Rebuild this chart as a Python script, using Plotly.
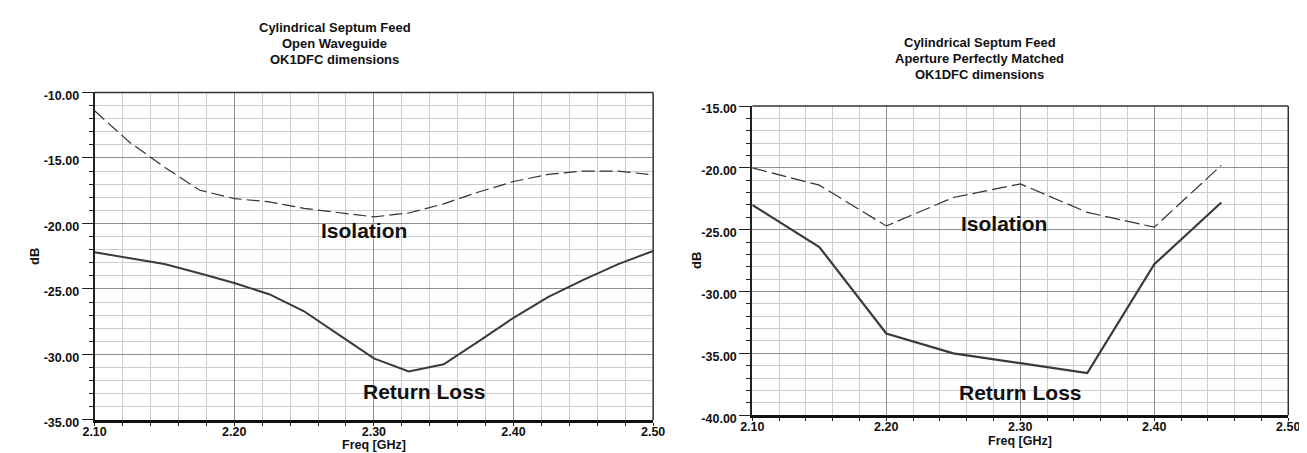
import plotly.graph_objects as go

# -----------------------------------
# Data
# -----------------------------------
# left chart: open waveguide
freq_open = [2.100, 2.125, 2.150, 2.175, 2.200, 2.225, 2.250, 2.275, 2.300,
             2.325, 2.350, 2.375, 2.400, 2.425, 2.450, 2.475, 2.500]
isolation_open = [-11.4, -13.8, -15.7, -17.45, -18.1, -18.35, -18.85, -19.15, -19.5,
                  -19.2, -18.5, -17.6, -16.8, -16.25, -16.0, -16.0, -16.3]
return_loss_open = [-22.2, -22.65, -23.1, -23.8, -24.55, -25.4, -26.7, -28.5, -30.3,
                    -31.3, -30.75, -29.0, -27.2, -25.6, -24.3, -23.1, -22.1]

# right chart: aperture perfectly matched
freq_matched = [2.10, 2.15, 2.20, 2.25, 2.30, 2.35, 2.40, 2.45]
isolation_matched = [-20.0, -21.4, -24.7, -22.4, -21.3, -23.6, -24.8, -19.8]
return_loss_matched = [-23.0, -26.4, -33.4, -35.0, -35.8, -36.6, -27.8, -22.8]

titles_open = ["Cylindrical Septum Feed", "Open Waveguide", "OK1DFC dimensions"]
titles_matched = ["Cylindrical Septum Feed", "Aperture Perfectly Matched", "OK1DFC dimensions"]

x_ticks = [2.10, 2.20, 2.30, 2.40, 2.50]
y_ticks_open = [-35, -30, -25, -20, -15, -10]
y_ticks_matched = [-40, -35, -30, -25, -20, -15]

W, H = 1307, 453
FONT = "Liberation Sans, Arial"
LINE = "#333333"

fig = go.Figure()

# Isolation (dashed) and Return Loss (solid) for both charts
fig.add_trace(go.Scatter(x=freq_open, y=isolation_open, mode="lines",
                         line=dict(color=LINE, width=1.2, dash="13px,5px"),
                         xaxis="x", yaxis="y"))
fig.add_trace(go.Scatter(x=freq_open, y=return_loss_open, mode="lines",
                         line=dict(color="#3a3a3a", width=2),
                         xaxis="x", yaxis="y"))
fig.add_trace(go.Scatter(x=freq_matched, y=isolation_matched, mode="lines",
                         line=dict(color=LINE, width=1.2, dash="15px,5px"),
                         xaxis="x2", yaxis="y2"))
fig.add_trace(go.Scatter(x=freq_matched, y=return_loss_matched, mode="lines",
                         line=dict(color="#3a3a3a", width=2.2),
                         xaxis="x2", yaxis="y2"))

tick_font = dict(family=FONT, size=12.5, color="#111", weight="bold")


def x_axis(domain, anchor):
    return dict(domain=domain, anchor=anchor, range=[x_ticks[0], x_ticks[-1]],
                tickvals=x_ticks, ticktext=[f"{v:.2f}" for v in x_ticks],
                showgrid=True, gridcolor="#8f8f8f", gridwidth=1,
                ticks="outside", ticklen=3, tickcolor="#222",
                ticklabelstandoff=-5,
                minor=dict(dtick=0.02, tick0=2.1, showgrid=True, gridcolor="#cdcdcd",
                           ticks="outside", ticklen=3, tickcolor="#222"),
                showline=True, linecolor="#111", linewidth=2.5, zeroline=False,
                tickfont=tick_font, fixedrange=True)


def y_axis(domain, anchor, vals):
    return dict(domain=domain, anchor=anchor, range=[min(vals), max(vals)],
                tickvals=vals, ticktext=[f"{v:.2f}" for v in vals],
                showgrid=True, gridcolor="#8f8f8f", gridwidth=1,
                ticks="outside", ticklen=11, tickcolor="#222",
                minor=dict(dtick=1, tick0=min(vals), showgrid=True, gridcolor="#cdcdcd",
                           ticks="outside", ticklen=4, tickcolor="#222"),
                showline=True, linecolor="#222", linewidth=2, zeroline=False,
                ticklabelshift=3, tickfont=tick_font, fixedrange=True)


fig.update_layout(
    width=W, height=H,
    margin=dict(l=0, r=0, t=0, b=0),
    paper_bgcolor="white", plot_bgcolor="white",
    showlegend=False,
    xaxis=x_axis([76 / W, 645 / W], "y"),
    yaxis=y_axis([1 - 421 / H, 1 - 83 / H], "x", y_ticks_open),
    xaxis2=x_axis([746 / W, 1292 / W], "y2"),
    yaxis2=y_axis([1 - 416 / H, 1 - 97 / H], "x2", y_ticks_matched),
)

# top / right frame of each plot
for xr, yr in [("x domain", "y domain"), ("x2 domain", "y2 domain")]:
    fig.add_shape(type="line", xref=xr, yref=yr, x0=0, x1=1, y0=1, y1=1,
                  line=dict(color="#333", width=1.5))
    fig.add_shape(type="line", xref=xr, yref=yr, x0=1, x1=1, y0=0, y1=1,
                  line=dict(color="#333", width=1.5))

title_font = dict(family=FONT, size=13, color="#111", weight="bold")
axis_title_font = dict(family=FONT, size=12.5, color="#111", weight="bold")

# titles, three lines each
for i, txt in enumerate(titles_open):
    fig.add_annotation(text=txt, xref="x domain", yref="paper", x=0.43,
                       y=1 - (16 + 16.5 * i) / H, showarrow=False,
                       xanchor="center", yanchor="middle", font=title_font)
for i, txt in enumerate(titles_matched):
    fig.add_annotation(text=txt, xref="x2 domain", yref="paper", x=0.424,
                       y=1 - (31 + 16.5 * i) / H, showarrow=False,
                       xanchor="center", yanchor="middle", font=title_font)

# axis titles
fig.add_annotation(text="Freq [GHz]", xref="x domain", yref="paper", x=0.5,
                   y=1 - 446.5 / H, showarrow=False, yanchor="middle", font=axis_title_font)
fig.add_annotation(text="Freq [GHz]", xref="x2 domain", yref="paper", x=0.5,
                   y=1 - 443 / H, showarrow=False, yanchor="middle", font=axis_title_font)
fig.add_annotation(text="dB", xref="paper", yref="y domain", x=14 / W, y=0.5,
                   textangle=-90, showarrow=False, xanchor="center", font=title_font)
fig.add_annotation(text="dB", xref="paper", yref="y2 domain", x=689 / W, y=0.5,
                   textangle=-90, showarrow=False, xanchor="center", font=title_font)

# curve labels
label_font = dict(family=FONT, size=21, color="#111", weight="bold")
fig.add_annotation(text="Isolation", x=2.293, y=-20.5, xref="x", yref="y",
                   showarrow=False, font=label_font)
fig.add_annotation(text="Return Loss", x=2.336, y=-32.8, xref="x", yref="y",
                   showarrow=False, font=label_font)
fig.add_annotation(text="Isolation", x=2.288, y=-24.5, xref="x2", yref="y2",
                   showarrow=False, font=label_font)
fig.add_annotation(text="Return Loss", x=2.30, y=-38.2, xref="x2", yref="y2",
                   showarrow=False, font=label_font)

fig.write_html("out.html")
